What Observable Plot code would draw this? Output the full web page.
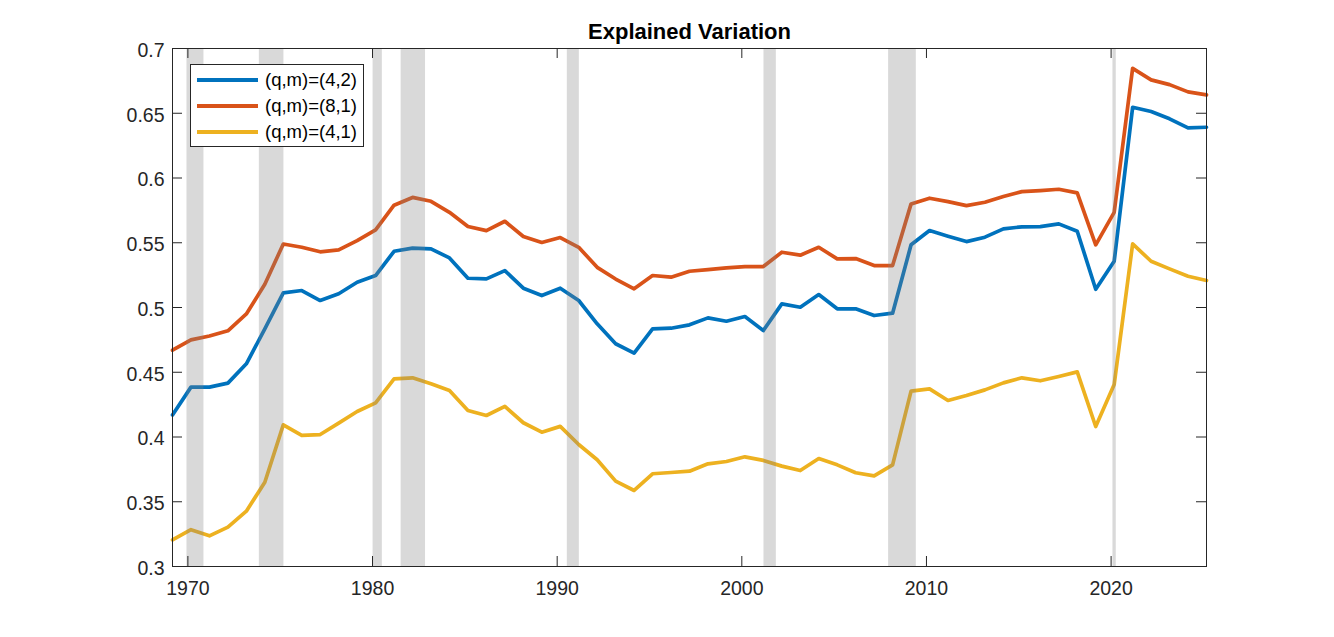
<!DOCTYPE html>
<html>
<head>
<meta charset="utf-8">
<script src="https://cdn.jsdelivr.net/npm/d3@7"></script>
<script src="https://cdn.jsdelivr.net/npm/@observablehq/plot@0.6"></script>
<style>
  html, body { margin: 0; padding: 0; background: #fff; }
  #wrap { position: relative; width: 1334px; height: 637px; font-family: "Liberation Sans", Arial, Helvetica, sans-serif; }
  #legend { position: absolute; left: 190px; top: 64px; width: 172px; height: 81px; border: 1px solid #262626; background: #fff; }
  .row { position: absolute; left: 0; height: 26px; display: flex; align-items: center; font-size: 18.5px; color: #000; white-space: nowrap; }
  .sw { display: inline-block; width: 61px; height: 4px; margin-left: 6px; margin-right: 7px; }
</style>
</head>
<body>
<div id="wrap"><div id="legend"></div></div>
<script>
// Observation years (each observation sits slightly after the start of its year)
const years = d3.range(1969, 2026);
const obsOffset = 1 / 6;

const seriesNames = ["(q,m)=(4,2)", "(q,m)=(8,1)", "(q,m)=(4,1)"];
const seriesColors = ["#0072BD", "#D95319", "#EDB120"];

const q4m2 = [0.417, 0.4385, 0.4385, 0.4416, 0.4565, 0.4835, 0.5113, 0.5131, 0.5054, 0.5106,
  0.5195, 0.5247, 0.5434, 0.5458, 0.5453, 0.5383, 0.5226, 0.5221, 0.5285, 0.5149,
  0.5092, 0.5149, 0.5054, 0.4874, 0.472, 0.4647, 0.4835, 0.484, 0.4866, 0.492,
  0.4894, 0.493, 0.4822, 0.5028, 0.5002, 0.510, 0.499, 0.499, 0.4938, 0.4956,
  0.5484, 0.5594, 0.555, 0.5509, 0.5543, 0.5607, 0.5623, 0.5625, 0.5646, 0.5589,
  0.5141, 0.5357, 0.6546, 0.6513, 0.6457, 0.6387, 0.6392];

const q8m1 = [0.467, 0.475, 0.478, 0.482, 0.495, 0.518, 0.549, 0.5465, 0.543, 0.5445,
  0.5517, 0.560, 0.579, 0.585, 0.582, 0.5735, 0.5625, 0.5594, 0.5666, 0.5548,
  0.5502, 0.554, 0.5465, 0.531, 0.522, 0.5144, 0.5247, 0.5234, 0.528, 0.5293,
  0.5306, 0.5316, 0.5316, 0.5427, 0.5404, 0.5465, 0.5376, 0.5378, 0.5324, 0.5324,
  0.580, 0.5844, 0.5818, 0.5787, 0.5813, 0.5857, 0.5895, 0.5903, 0.5913, 0.5885,
  0.5484, 0.5735, 0.6847, 0.6758, 0.6721, 0.6665, 0.6642];

const q4m1 = [0.3206, 0.3284, 0.3237, 0.3304, 0.3427, 0.3651, 0.4094, 0.4012, 0.4019, 0.4107,
  0.4197, 0.4264, 0.4449, 0.4457, 0.4411, 0.4359, 0.4205, 0.4166, 0.4236, 0.411,
  0.4037, 0.4082, 0.3942, 0.3824, 0.3659, 0.3587, 0.3716, 0.3726, 0.3736, 0.3793,
  0.3811, 0.3847, 0.3819, 0.3775, 0.3741, 0.3834, 0.3785, 0.3724, 0.370, 0.3785,
  0.4354, 0.4372, 0.4282, 0.432, 0.4364, 0.4418, 0.4457, 0.4434, 0.4467, 0.4503,
  0.4081, 0.4405, 0.5491, 0.5357, 0.5298, 0.5241, 0.5208];

// Recession periods (decimal years)
const recStart = [1969.95, 1973.87, 1980.03, 1981.55, 1990.55, 2001.2, 2007.95, 2020.1];
const recEnd   = [1970.87, 1975.2, 1980.53, 1982.87, 1991.2, 2001.87, 2009.45, 2020.28];

const xTicks = [1970, 1980, 1990, 2000, 2010, 2020];
const yTicks = [0.3, 0.35, 0.4, 0.45, 0.5, 0.55, 0.6, 0.65, 0.7];
const titleText = "Explained Variation";

const seriesValues = [q4m2, q8m1, q4m1];
const data = [];
seriesValues.forEach((vals, s) => vals.forEach((v, i) => data.push({t: years[i] + obsOffset, v, s: seriesNames[s]})));
const recessions = recStart.map((s, i) => ({start: s, end: recEnd[i]}));

const W = 1334, H = 637, mL = 172, mR = 128, mT = 48, mB = 71;
const plotW = W - mL - mR, plotH = H - mT - mB, tickLen = 10;
const ink = "#262626";

const chart = Plot.plot({
  width: W, height: H,
  marginLeft: mL, marginRight: mR, marginTop: mT, marginBottom: mB,
  style: {fontFamily: '"Liberation Sans", Arial, Helvetica, sans-serif', fontSize: "19.5px", color: ink, background: "#fff"},
  x: {domain: [years[0] + obsOffset, years[years.length - 1] + obsOffset], label: null},
  y: {domain: [0.3, 0.7], label: null},
  color: {domain: seriesNames, range: seriesColors},
  marks: [
    Plot.lineY(data, {x: "t", y: "v", stroke: "s", strokeWidth: 3.7, strokeLinejoin: "round"}),
    Plot.rect(recessions, {x1: "start", x2: "end", fill: "#808080", fillOpacity: 0.3}),
    Plot.frame({stroke: ink, strokeWidth: 1}),
    Plot.ruleX(xTicks, {x: d => d, insetTop: plotH - tickLen, stroke: ink}),
    Plot.ruleX(xTicks, {x: d => d, insetBottom: plotH - tickLen, stroke: ink}),
    Plot.ruleY(yTicks, {y: d => d, insetRight: plotW - tickLen, stroke: ink}),
    Plot.ruleY(yTicks, {y: d => d, insetLeft: plotW - tickLen, stroke: ink}),
    Plot.axisX({ticks: xTicks, tickSize: 0, tickPadding: 15, label: null, tickFormat: d => String(d), fontSize: 19.5, fill: ink}),
    Plot.axisY({ticks: yTicks, tickSize: 0, tickPadding: 8, label: null, dy: 2, tickFormat: d => String(+d.toFixed(2)), fontSize: 19.5, fill: ink}),
    Plot.text([titleText], {text: d => d, frameAnchor: "top", lineAnchor: "middle", dy: -17, fontWeight: "bold", fontSize: 22, fill: "#000"})
  ]
});
document.getElementById("wrap").prepend(chart);

// Legend
const legend = document.getElementById("legend");
seriesNames.forEach((name, i) => {
  const row = document.createElement("div");
  row.className = "row";
  row.style.top = (2 + i * 26) + "px";
  const sw = document.createElement("span");
  sw.className = "sw";
  sw.style.background = seriesColors[i];
  row.appendChild(sw);
  row.appendChild(document.createTextNode(name));
  legend.appendChild(row);
});
</script>
</body>
</html>
